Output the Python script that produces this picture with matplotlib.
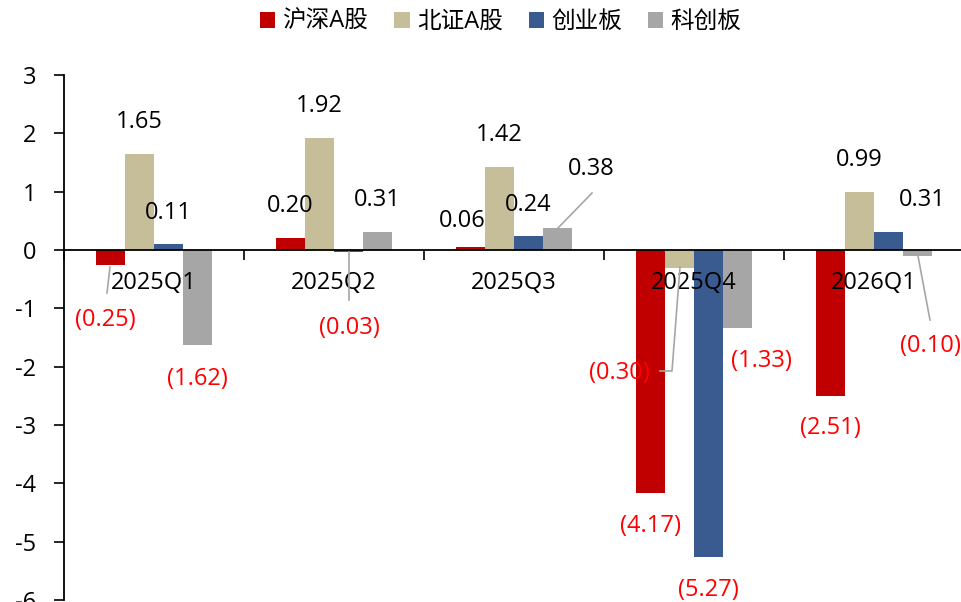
import matplotlib
matplotlib.use("Agg")
import matplotlib.pyplot as plt
import numpy as np
from matplotlib.transforms import ScaledTranslation, Affine2D
from matplotlib.patches import Patch

plt.rcParams['font.family'] = ['Open Sans', 'Noto Sans CJK SC', 'DejaVu Sans']

categories = ["2025Q1", "2025Q2", "2025Q3", "2025Q4", "2026Q1"]
series_names = ["沪深A股", "北证A股", "创业板", "科创板"]
hs_a = [-0.25, 0.20, 0.06, -4.17, -2.51]
bz_a = [1.65, 1.92, 1.42, -0.30, 0.99]
cyb = [0.11, -0.03, 0.24, -5.27, 0.31]
kcb = [-1.62, 0.31, 0.38, -1.33, -0.10]
series = [hs_a, bz_a, cyb, kcb]
colors = ["#C00000", "#C6BD99", "#3A5B8F", "#A6A6A6"]
yticks = [3, 2, 1, 0, -1, -2, -3, -4, -5, -6]

# label offsets in image pixels (dx right, dy down) relative to bar end
label_off = {
    (0, 0): (-5.5, 55.4), (0, 1): (0, -32), (0, 2): (0, -31), (0, 3): (0, 34.5),
    (1, 0): (0, -32), (1, 1): (0, -32), (1, 2): (0.5, 76), (1, 3): (0, -32),
    (2, 0): (-8.5, -25.5), (2, 1): (0, -32), (2, 2): (0, -31), (2, 3): (33.5, -59),
    (3, 0): (0, 33), (3, 1): (-60.5, 105.5), (3, 2): (0, 33), (3, 3): (23.5, 33.5),
    (4, 0): (0, 32), (4, 1): (0, -32), (4, 2): (33.5, -32), (4, 3): (12.5, 90),
}
leaders = {
    (0, 0): [(-0.5, 2.4), (-3.5, 28.4)],
    (1, 2): [(0.5, 0.25), (0.5, 48.25)],
    (2, 3): [(0.5, 0.2), (34.5, -34.8)],
    (3, 1): [(0.5, -0.5), (-7.5, 103.5), (-19.5, 103.5)],
    (4, 3): [(0.5, 0.2), (12.5, 64.2)],
}

W, H = 961, 602
dpi = 100
fig = plt.figure(figsize=(W / dpi, H / dpi), dpi=dpi)
ax = fig.add_axes([64 / W, 2 / H, 900 / W, 525 / H])

x = np.arange(len(categories))
bw = 29 / 180
for k, (vals, c, name) in enumerate(zip(series, colors, series_names)):
    ax.bar(x + (k - 1.5) * bw, vals, width=bw, color=c, label=name, zorder=2)

ax.set_xlim(-0.5, len(categories) - 0.5)
ax.set_ylim(-6, 3)
ax.set_yticks(yticks)
ax.set_yticklabels([str(v) for v in yticks])
ax.tick_params(axis='y', direction='out', length=7, width=1.2, pad=13, labelsize=17)
ax.spines['top'].set_visible(False)
ax.spines['right'].set_visible(False)
ax.spines['left'].set_linewidth(1.3)
ax.spines['bottom'].set_position(('data', 0))
ax.spines['bottom'].set_linewidth(1.3)
ax.spines['bottom'].set_zorder(3)
ax.set_xticks(np.arange(len(categories) + 1) - 0.5)
ax.set_xticklabels([])
ax.tick_params(axis='x', direction='out', length=7, width=1.2)

for i, cat in enumerate(categories):
    ax.text(i, -0.57, cat, ha='center', va='center', fontsize=17, color='black', zorder=4)

def off_trans(dx, dy):
    return ax.transData + ScaledTranslation(dx / dpi, -dy / dpi, fig.dpi_scale_trans)

for i in range(len(categories)):
    for k, vals in enumerate(series):
        v = vals[i]
        bx = x[i] + (k - 1.5) * bw
        dx, dy = label_off[(i, k)]
        if v < 0:
            txt = "({:.2f})".format(abs(v))
            col = "#FF0000"
        else:
            txt = "{:.2f}".format(v)
            col = "black"
        ax.text(bx, v, txt, transform=off_trans(dx, dy), ha='center', va='center',
                fontsize=17, color=col, zorder=5)
        if (i, k) in leaders:
            pts = np.array(leaders[(i, k)])
            tr = Affine2D().scale(1, -1) + ScaledTranslation(bx, v, ax.transData)
            ax.plot(pts[:, 0], pts[:, 1], color="#A6A6A6", lw=1.2, transform=tr,
                    zorder=4, clip_on=False)

handles = [Patch(facecolor=c, edgecolor='none') for c in colors]
fig.legend(handles, series_names, loc='center', bbox_to_anchor=(0.521, 1 - 22 / H), ncol=4,
           frameon=False, fontsize=17, handlelength=0.65, handleheight=0.65,
           handletextpad=0.3, columnspacing=1.1, borderpad=0.2)

fig.savefig("out.png", dpi=dpi)
